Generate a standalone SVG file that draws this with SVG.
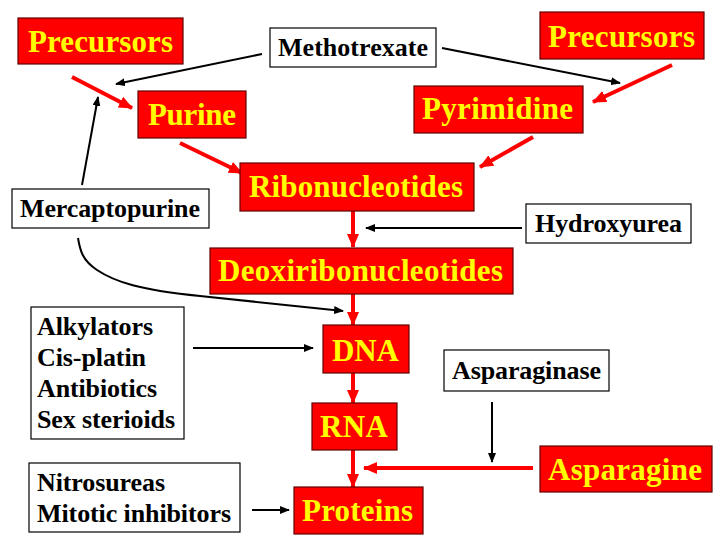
<svg xmlns="http://www.w3.org/2000/svg" width="720" height="540" viewBox="0 0 720 540">
<defs>
<style>
.rb{fill:#FF0000;stroke:#600000;stroke-width:1.2}
.wb{fill:#FFFFFF;stroke:#000000;stroke-width:1.2}
.rt{font-family:'Liberation Serif','DejaVu Serif',serif;font-weight:bold;font-size:31px;fill:#FFFF00}
.wt{font-family:'Liberation Serif','DejaVu Serif',serif;font-weight:bold;font-size:26px;fill:#000000}
.ra{fill:none;stroke:#FF0000;stroke-width:4;marker-end:url(#rh)}
.ba{fill:none;stroke:#000000;stroke-width:2;marker-end:url(#bh)}
</style>
<marker id="rh" markerUnits="userSpaceOnUse" markerWidth="14" markerHeight="12" refX="13" refY="6" orient="auto">
<path d="M0,0 L14,6 L0,12 Z" fill="#FF0000"/>
</marker>
<marker id="bh" markerUnits="userSpaceOnUse" markerWidth="10" markerHeight="8" refX="9" refY="4" orient="auto">
<path d="M0,0 L10,4 L0,8 Z" fill="#000000"/>
</marker>
</defs>
<rect width="720" height="540" fill="#FFFFFF"/>
<g id="connectors">
<path class="ba" d="M262,54 L116,84"/>
<path class="ba" d="M442,48 L620,83"/>
<path class="ra" d="M72,77 L132,108"/>
<path class="ra" d="M672,65 L593,102"/>
<path class="ra" d="M180,143 L242,173"/>
<path class="ra" d="M533,137 L480,167"/>
<path class="ba" d="M82,185 L98,97"/>
<path class="ba" d="M78,238 C80,250 82,260 97,270 C115,282 140,290 200,296 L343,311"/>
<path class="ra" d="M353,211 L353,247"/>
<path class="ba" d="M522,228 L366,228"/>
<path class="ra" d="M353,294 L353,325"/>
<path class="ba" d="M193,348 L313,348"/>
<path class="ra" d="M353,373 L353,403"/>
<path class="ra" d="M353,450 L353,487"/>
<path class="ra" d="M533,468 L364,468"/>
<path class="ba" d="M492,402 L492,462"/>
<path class="ba" d="M252,510 L289,510"/>
</g>
<g id="precursors-left"><rect class="rb" x="18" y="18" width="165" height="46"/><text class="rt" x="28" y="52" textLength="145">Precursors</text></g>
<g id="methotrexate"><rect class="wb" x="270" y="28" width="166" height="39"/><text class="wt" x="278" y="56" textLength="150">Methotrexate</text></g>
<g id="precursors-right"><rect class="rb" x="540" y="12" width="164" height="47"/><text class="rt" x="548" y="47" textLength="147">Precursors</text></g>
<g id="purine"><rect class="rb" x="138" y="91" width="108" height="47"/><text class="rt" x="148" y="125" textLength="88">Purine</text></g>
<g id="pyrimidine"><rect class="rb" x="414" y="86" width="169" height="47"/><text class="rt" x="422" y="119" textLength="151">Pyrimidine</text></g>
<g id="mercaptopurine"><rect class="wb" x="12" y="189" width="197" height="39"/><text class="wt" x="20" y="217" textLength="180">Mercaptopurine</text></g>
<g id="ribonucleotides"><rect class="rb" x="240" y="163" width="234" height="48"/><text class="rt" x="249" y="197" textLength="214">Ribonucleotides</text></g>
<g id="hydroxyurea"><rect class="wb" x="526" y="204" width="165" height="39"/><text class="wt" x="535" y="232" textLength="147">Hydroxyurea</text></g>
<g id="deoxiribonucleotides"><rect class="rb" x="210" y="248" width="303" height="46"/><text class="rt" x="218" y="281" textLength="285">Deoxiribonucleotides</text></g>
<g id="alkylators"><rect class="wb" x="31" y="307" width="153" height="132"/>
<text class="wt" x="37" y="335" textLength="116">Alkylators</text>
<text class="wt" x="37" y="366" textLength="109">Cis-platin</text>
<text class="wt" x="37" y="397" textLength="120">Antibiotics</text>
<text class="wt" x="37" y="428" textLength="138">Sex sterioids</text></g>
<g id="dna"><rect class="rb" x="323" y="325" width="86" height="48"/><text class="rt" x="332" y="361" textLength="67">DNA</text></g>
<g id="asparaginase"><rect class="wb" x="444" y="350" width="165" height="41"/><text class="wt" x="452" y="379" textLength="149">Asparaginase</text></g>
<g id="rna"><rect class="rb" x="312" y="403" width="85" height="47"/><text class="rt" x="320" y="437" textLength="68">RNA</text></g>
<g id="nitrosureas"><rect class="wb" x="29" y="463" width="211" height="69"/>
<text class="wt" x="37" y="491" textLength="128">Nitrosureas</text>
<text class="wt" x="37" y="522" textLength="194">Mitotic inhibitors</text></g>
<g id="proteins"><rect class="rb" x="294" y="487" width="129" height="47"/><text class="rt" x="302" y="521" textLength="111">Proteins</text></g>
<g id="asparagine"><rect class="rb" x="540" y="446" width="172" height="46"/><text class="rt" x="548" y="480" textLength="154">Asparagine</text></g>
</svg>
